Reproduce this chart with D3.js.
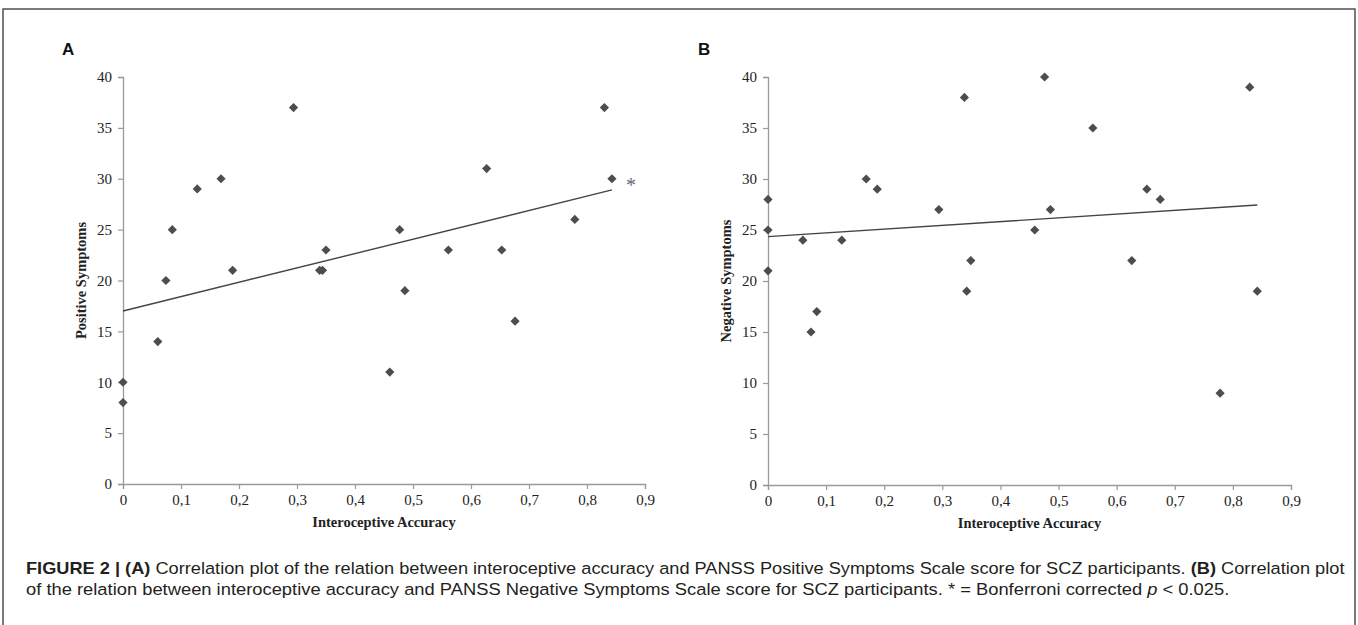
<!DOCTYPE html>
<html>
<head>
<meta charset="utf-8">
<script src="https://cdn.jsdelivr.net/npm/d3@7"></script>
<style>
  html, body { margin: 0; padding: 0; background: #fff; }
  svg { display: block; }
</style>
</head>
<body>
<div id="chart"></div>
<script>
// Panel A: interoceptive accuracy vs positive symptoms
const accuracyA = [0, 0, 0.060, 0.074, 0.085, 0.128, 0.169, 0.189, 0.294, 0.339, 0.344, 0.350,
                   0.460, 0.477, 0.486, 0.561, 0.627, 0.653, 0.676, 0.779, 0.830, 0.843];
const positive  = [10, 8, 14, 20, 25, 29, 30, 21, 37, 21, 21, 23,
                   11, 25, 19, 23, 31, 23, 16, 26, 37, 30];
const trendA = [[0, 17.0], [0.843, 28.9]];

// Panel B: interoceptive accuracy vs negative symptoms
const accuracyB = [0, 0, 0, 0.060, 0.074, 0.084, 0.127, 0.169, 0.188, 0.294, 0.338, 0.342, 0.349,
                   0.459, 0.476, 0.486, 0.559, 0.626, 0.652, 0.675, 0.778, 0.829, 0.842];
const negative  = [28, 25, 21, 24, 15, 17, 24, 30, 29, 27, 38, 19, 22,
                   25, 40, 27, 35, 22, 29, 28, 9, 39, 19];
const trendB = [[0, 24.35], [0.842, 27.45]];

const xTicks = [0, 0.1, 0.2, 0.3, 0.4, 0.5, 0.6, 0.7, 0.8, 0.9];
const yTicks = [0, 5, 10, 15, 20, 25, 30, 35, 40];

const width = 1358, height = 625;
const serif = "'Liberation Serif', 'Times New Roman', serif";
const sans = "'Liberation Sans', Arial, sans-serif";

const svg = d3.select('#chart').append('svg')
    .attr('width', width)
    .attr('height', height);

// Outer frame
svg.append('rect')
    .attr('x', 3).attr('y', 9)
    .attr('width', 1352).attr('height', 640)
    .attr('fill', 'none')
    .attr('stroke', '#444')
    .attr('stroke-width', 1.4);

const fmtX = d => d === 0 ? '0' : d3.format('.1f')(d).replace('.', ',');

function drawPanel(opts) {
    const x = d3.scaleLinear().domain([0, 0.9]).range([opts.left, opts.right]);
    const y = d3.scaleLinear().domain([0, 40]).range([opts.bottom, opts.top]);
    const g = svg.append('g');

    // Panel letter
    g.append('text')
        .attr('x', opts.letterX).attr('y', 55)
        .attr('font-family', sans)
        .attr('font-weight', 'bold')
        .attr('font-size', 17)
        .attr('fill', '#111')
        .text(opts.letter);

    // Axes
    const yAxis = g.append('g')
        .attr('transform', `translate(${opts.left},0)`)
        .call(d3.axisLeft(y).tickValues(yTicks).tickSize(5).tickPadding(6));
    const xAxis = g.append('g')
        .attr('transform', `translate(0,${opts.bottom})`)
        .call(d3.axisBottom(x).tickValues(xTicks).tickFormat(fmtX).tickSize(5).tickPadding(5));

    [yAxis, xAxis].forEach(ax => {
        ax.attr('font-size', null).attr('font-family', null);
        ax.select('.domain').attr('stroke', '#9a9a9a').attr('stroke-width', 1.3);
        ax.selectAll('.tick line').attr('stroke', '#9a9a9a').attr('stroke-width', 1.2);
        ax.selectAll('.tick text')
            .style('font-family', serif)
            .style('font-size', '15px')
            .attr('fill', '#222');
    });

    // Axis titles
    g.append('text')
        .attr('transform', `translate(${opts.left - 37},${(opts.top + opts.bottom) / 2}) rotate(-90)`)
        .attr('text-anchor', 'middle')
        .style('font-family', serif)
        .style('font-weight', 'bold')
        .style('font-size', '14.5px')
        .attr('fill', '#222')
        .text(opts.yLabel);

    g.append('text')
        .attr('x', (opts.left + opts.right) / 2)
        .attr('y', opts.bottom + 43)
        .attr('text-anchor', 'middle')
        .style('font-family', serif)
        .style('font-weight', 'bold')
        .style('font-size', '14.5px')
        .attr('fill', '#222')
        .text('Interoceptive Accuracy');

    // Trend line
    g.append('path')
        .datum(opts.trend)
        .attr('d', d3.line().x(d => x(d[0])).y(d => y(d[1])))
        .attr('fill', 'none')
        .attr('stroke', '#444')
        .attr('stroke-width', 1.4);

    // Points
    const pts = opts.xs.map((v, i) => ({ x: v, y: opts.ys[i] }));
    g.append('g')
        .selectAll('path')
        .data(pts)
        .enter()
        .append('path')
        .attr('transform', d => `translate(${x(d.x)},${y(d.y)})`)
        .attr('d', 'M0,-4.6L4.6,0L0,4.6L-4.6,0Z')
        .attr('fill', '#4d4d4d');

    return { x, y, g };
}

const panelA = drawPanel({
    letter: 'A', letterX: 62,
    left: 123, right: 645, top: 77, bottom: 484,
    xs: accuracyA, ys: positive, trend: trendA,
    yLabel: 'Positive Symptoms'
});

drawPanel({
    letter: 'B', letterX: 698,
    left: 768, right: 1291, top: 77, bottom: 485,
    xs: accuracyB, ys: negative, trend: trendB,
    yLabel: 'Negative Symptoms'
});

// Significance star next to the panel A trend line
panelA.g.append('text')
    .attr('x', panelA.x(0.876))
    .attr('y', panelA.y(29.6) + 9)
    .attr('text-anchor', 'middle')
    .style('font-family', serif)
    .style('font-size', '20px')
    .attr('fill', '#66667a')
    .text('*');

// Caption
const captionLines = [
    { y: 574, target: 1320, parts: [
        { t: 'FIGURE 2 | (A)', b: true },
        { t: ' Correlation plot of the relation between interoceptive accuracy and PANSS Positive Symptoms Scale score for SCZ participants. ' },
        { t: '(B)', b: true },
        { t: ' Correlation plot' }
    ] },
    { y: 595, target: 1204, parts: [
        { t: 'of the relation between interoceptive accuracy and PANSS Negative Symptoms Scale score for SCZ participants. * = Bonferroni corrected ' },
        { t: 'p', i: true },
        { t: ' < 0.025.' }
    ] }
];

captionLines.forEach(line => {
    const t = svg.append('text')
        .style('font-family', sans)
        .style('font-size', '16.5px')
        .attr('fill', '#231f20')
        .attr('xml:space', 'preserve');
    line.parts.forEach(p => {
        t.append('tspan')
            .attr('font-weight', p.b ? 'bold' : 'normal')
            .attr('font-style', p.i ? 'italic' : 'normal')
            .text(p.t);
    });
    const w = t.node().getComputedTextLength();
    t.attr('transform', `translate(26,${line.y}) scale(${line.target / w},1)`);
});
</script>
</body>
</html>
